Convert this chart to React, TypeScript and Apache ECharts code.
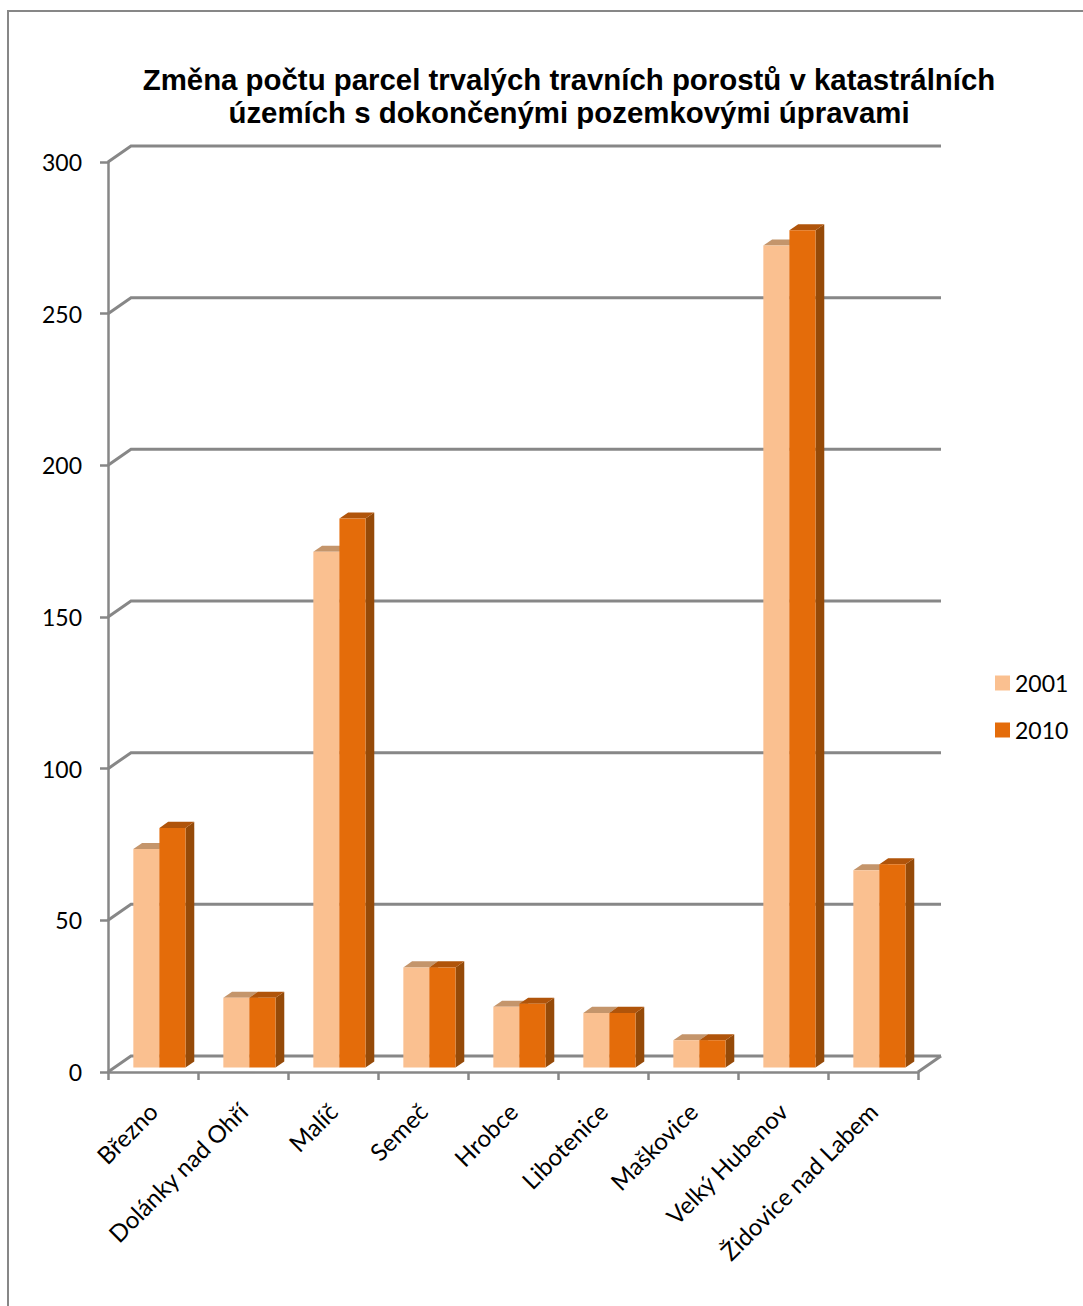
import { useEffect, useRef } from 'react';
import * as echarts from 'echarts';

const categories = [
  'Březno',
  'Dolánky nad Ohří',
  'Malíč',
  'Semeč',
  'Hrobce',
  'Libotenice',
  'Maškovice',
  'Velký Hubenov',
  'Židovice nad Labem',
];
const values2001 = [72, 23, 170, 33, 20, 18, 9, 271, 65];
const values2010 = [79, 23, 181, 33, 21, 18, 9, 276, 67];
const seriesNames = ['2001', '2010'];
const yTicks = [0, 50, 100, 150, 200, 250, 300];
const titleLines = [
  'Změna počtu parcel trvalých travních porostů v katastrálních',
  'územích s dokončenými pozemkovými úpravami',
];

// oblique projection of the back wall (pixels)
const WALL_DX = 23;
const WALL_DY = -16;
// bars occupy this slice of the depth
const BAR_FRONT = 0.28;
const BAR_DEPTH = 0.38;
const GRID_COLOR = '#878787';
const LABEL_FONT = 'Lato';
const TITLE_FONT = 'Liberation Sans, Arial, sans-serif';

type Faces = { front: string; top: string; side: string };
const faces2001: Faces = { front: '#FAC090', top: '#C4956B', side: '#C98A55' };
const faces2010: Faces = { front: '#E46C0A', top: '#B0540A', side: '#954A08' };

function barRenderer(slot: number, f: Faces) {
  return (_params: any, api: any) => {
    const ci = api.value(0);
    const v = api.value(1);
    const top = api.coord([ci, v]);
    const base = api.coord([ci, 0]);
    const band = api.size([1, 0])[0];
    const w = band * 0.29;
    const ox = WALL_DX * BAR_FRONT;
    const oy = WALL_DY * BAR_FRONT;
    const dx = WALL_DX * BAR_DEPTH;
    const dy = WALL_DY * BAR_DEPTH;
    const x0 = top[0] + ox - w + slot * w;
    const x1 = x0 + w;
    const yt = top[1] + oy;
    const yb = base[1] + oy;
    return {
      type: 'group',
      children: [
        {
          type: 'polygon',
          shape: { points: [[x1, yt], [x1 + dx, yt + dy], [x1 + dx, yb + dy], [x1, yb]] },
          style: { fill: f.side },
        },
        {
          type: 'polygon',
          shape: { points: [[x0, yt], [x1, yt], [x1 + dx, yt + dy], [x0 + dx, yt + dy]] },
          style: { fill: f.top },
        },
        {
          type: 'rect',
          shape: { x: x0, y: yt, width: w, height: yb - yt },
          style: { fill: f.front },
        },
      ],
    };
  };
}

function wallRenderer(params: any, api: any) {
  const cs = params.coordSys;
  const L = cs.x;
  const R = cs.x + cs.width;
  const v = api.value(1);
  const y = api.coord([0, v])[1];
  const style = { stroke: GRID_COLOR, lineWidth: 3, fill: 'none' };
  const children: any[] = [
    {
      type: 'polyline',
      shape: { points: [[L, y], [L + WALL_DX, y + WALL_DY], [R + WALL_DX, y + WALL_DY]] },
      style,
    },
  ];
  if (v === 0) {
    children.push({
      type: 'line',
      shape: { x1: R, y1: y, x2: R + WALL_DX, y2: y + WALL_DY },
      style,
    });
  }
  return { type: 'group', children };
}

export default function App() {
  const ref = useRef<HTMLDivElement>(null);

  useEffect(() => {
    if (!ref.current) return;
    const chart = echarts.init(ref.current, undefined, { renderer: 'svg' });
    const axisLineStyle = { color: GRID_COLOR, width: 2.5 };
    chart.setOption({
      animation: false,
      backgroundColor: '#fff',
      grid: { left: 108, top: 162, width: 810, height: 910 },
      title: {
        text: titleLines.join('\n'),
        left: 569,
        top: 63,
        textAlign: 'center',
        padding: 0,
        textStyle: {
          fontSize: 29.4,
          lineHeight: 33,
          fontWeight: 'bold',
          fontFamily: TITLE_FONT,
          color: '#000',
        },
      },
      graphic: [
        {
          type: 'rect',
          shape: { x: 8, y: 11, width: 2000, height: 2000 },
          style: { fill: 'none', stroke: GRID_COLOR, lineWidth: 2 },
          silent: true,
        },
      ],
      legend: {
        data: seriesNames.map((name) => ({ name, icon: 'rect' })),
        orient: 'vertical',
        left: 990,
        top: 666,
        itemWidth: 15,
        itemHeight: 15,
        itemGap: 23,
        textStyle: { fontSize: 23, lineHeight: 24, fontFamily: LABEL_FONT, color: '#000' },
      },
      xAxis: {
        type: 'category',
        data: categories,
        axisLine: { show: true, lineStyle: axisLineStyle },
        axisTick: { show: true, length: 8, interval: 0, lineStyle: axisLineStyle },
        axisLabel: {
          interval: 0,
          rotate: 45,
          margin: 35,
          fontSize: 24,
          fontFamily: LABEL_FONT,
          color: '#000',
        },
        splitLine: { show: false },
      },
      yAxis: {
        type: 'value',
        min: 0,
        max: 300,
        interval: 50,
        axisLine: { show: true, lineStyle: axisLineStyle },
        axisTick: { show: true, length: 8, lineStyle: axisLineStyle },
        axisLabel: { margin: 26, fontSize: 23, fontFamily: LABEL_FONT, color: '#000' },
        splitLine: { show: false },
      },
      series: [
        {
          name: 'walls',
          type: 'custom',
          renderItem: wallRenderer,
          data: yTicks.map((v) => [0, v]),
          silent: true,
          z: 1,
        },
        {
          name: seriesNames[0],
          type: 'custom',
          renderItem: barRenderer(0, faces2001),
          itemStyle: { color: faces2001.front },
          data: values2001.map((v, i) => [i, v]),
          z: 2,
        },
        {
          name: seriesNames[1],
          type: 'custom',
          renderItem: barRenderer(1, faces2010),
          itemStyle: { color: faces2010.front },
          data: values2010.map((v, i) => [i, v]),
          z: 3,
        },
      ],
    });
    return () => chart.dispose();
  }, []);

  return (
    <div
      ref={ref}
      style={{ position: 'absolute', left: 0, top: 0, width: 1083, height: 1306 }}
    />
  );
}
